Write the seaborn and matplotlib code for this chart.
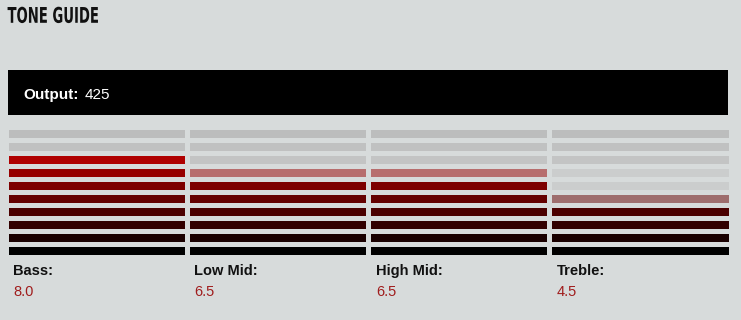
import numpy as np
import pandas as pd
import matplotlib
matplotlib.use("Agg")
import matplotlib.pyplot as plt
import seaborn as sns
from matplotlib.colors import ListedColormap, to_rgb
from matplotlib.patches import Rectangle
from matplotlib.patheffects import AbstractPathEffect
from matplotlib.transforms import Affine2D

# ---- data ----
bands = ["Bass", "Low Mid", "High Mid", "Treble"]
settings = [8.0, 6.5, 6.5, 4.5]
output_value = 425
levels = list(range(10, 0, -1))  # top to bottom

# ---- style ----
BG = "#d7dbdb"
W, H = 741, 320
sns.set_theme(style="white")
plt.rcParams["font.family"] = ["Liberation Sans", "DejaVu Sans"]

bg_rgb = np.array(to_rgb(BG))
fill_colors = [np.array([25 * (i - 1) / 255, 0, 0]) for i in range(1, 11)]
half_colors = [0.5 * c + 0.5 * bg_rgb for c in fill_colors]
empty_map = {10: "#bcbdbd", 9: "#c0c1c1", 8: "#c3c4c4"}
empty_colors = [np.array(to_rgb(empty_map.get(i, "#cbcdcd"))) for i in range(1, 11)]
cmap = ListedColormap(fill_colors + half_colors + empty_colors)

# state codes: filled -> level-1, half -> 10+level-1, empty -> 20+level-1
M = np.zeros((len(levels), len(bands)))
for r, lv in enumerate(levels):
    for c, v in enumerate(settings):
        if lv <= np.floor(v):
            M[r, c] = lv - 1
        elif lv - 0.5 == v:
            M[r, c] = 10 + lv - 1
        else:
            M[r, c] = 20 + lv - 1
df = pd.DataFrame(M, index=levels, columns=bands)

fig = plt.figure(figsize=(W / 100, H / 100), dpi=100, facecolor=BG)

def fx(x):
    return x / W

def fy(y):
    return 1 - y / H

gap = 5.0  # px
left, right, top, bottom = 8 - gap / 2, 728 + gap / 2, 129 - gap / 2, 254 + gap / 2
ax = fig.add_axes([fx(left), fy(bottom), (right - left) / W, (bottom - top) / H])
sns.heatmap(df, cmap=cmap, vmin=-0.5, vmax=29.5, cbar=False,
            linewidths=gap * 72 / 100, linecolor=BG, ax=ax,
            xticklabels=False, yticklabels=False)
ax.set_xlabel("")
ax.set_ylabel("")
for s in ax.spines.values():
    s.set_visible(False)


class Condense(AbstractPathEffect):
    """Horizontally squeeze glyphs about a fixed x (display px)."""
    def __init__(self, x0, sx):
        super().__init__()
        self.x0, self.sx = x0, sx

    def draw_path(self, renderer, gc, tpath, affine, rgbFace=None):
        aff = affine + Affine2D().translate(-self.x0, 0).scale(self.sx, 1).translate(self.x0, 0)
        renderer.draw_path(gc, tpath, aff, rgbFace)


# title
title_x = 7.5
fig.text(fx(title_x), fy(22.8), "TONE GUIDE", fontsize=15.6, fontweight="bold",
         family=["DejaVu Sans"], color="#111111",
         va="baseline", ha="left",
         path_effects=[Condense(title_x, 0.61)])

# output box
fig.patches.append(Rectangle((fx(8), fy(115)), (728 - 8) / W, (115 - 70) / H,
                             transform=fig.transFigure, facecolor="black",
                             edgecolor="none", zorder=1))
fig.text(fx(23), fy(99), "Output:", fontsize=11, fontweight="bold", color="white",
         va="baseline", ha="left", zorder=2)
fig.text(fx(85), fy(99), str(output_value), fontsize=11, color="white",
         va="baseline", ha="left", zorder=2)

# band labels
col_lefts = [8, 189, 371, 552]
for xl, name, v in zip(col_lefts, bands, settings):
    fig.text(fx(xl + 5), fy(275), name + ":", fontsize=10.5, fontweight="bold",
             color="#111111", va="baseline", ha="left")
    fig.text(fx(xl + 5), fy(296), f"{v:.1f}", fontsize=10.5, color="#a01c1c",
             va="baseline", ha="left")

fig.savefig("out.png", dpi=100, facecolor=BG)
